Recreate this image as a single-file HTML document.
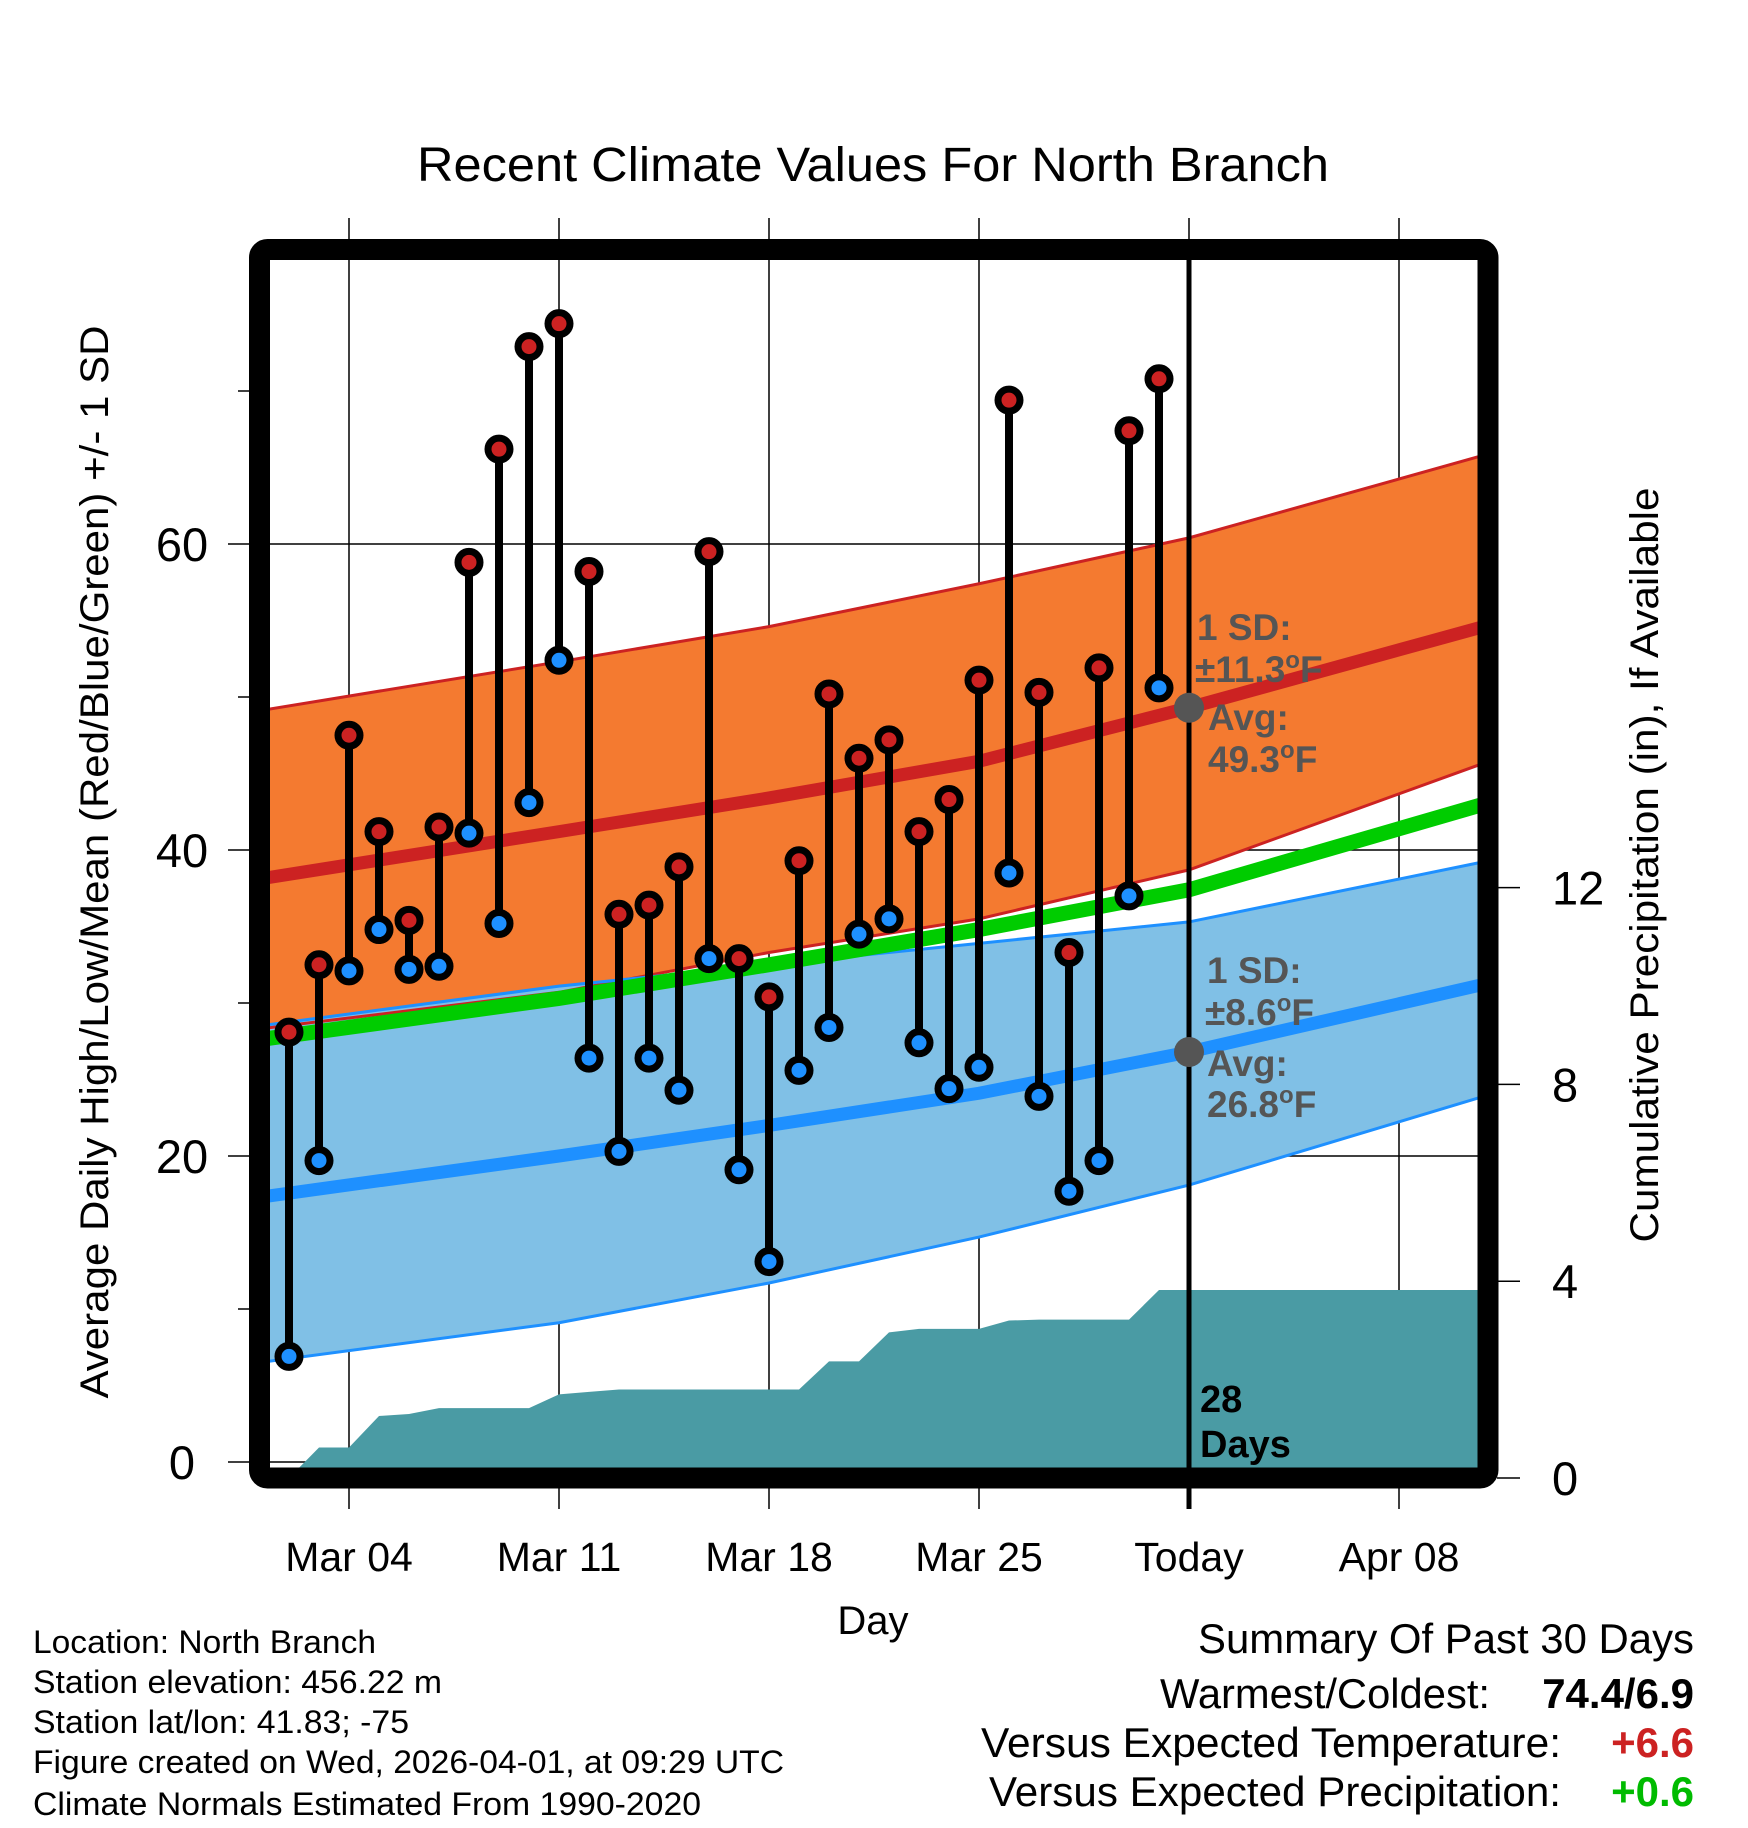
<!DOCTYPE html>
<html>
<head>
<meta charset="utf-8">
<style>
html,body{margin:0;padding:0;background:#fff;}
svg{display:block;font-family:"Liberation Sans",sans-serif;}
</style>
</head>
<body>
<svg id="chart" xmlns="http://www.w3.org/2000/svg" width="1748" height="1828" viewBox="0 0 1748 1828">
  <defs>
    <clipPath id="plotClip"><rect x="270" y="260" width="1208" height="1208"/></clipPath>
  </defs>
  <text x="873" y="181" font-size="48" text-anchor="middle" textLength="912" lengthAdjust="spacingAndGlyphs">Recent Climate Values For North Branch</text>
  <g id="grid"></g>
  <g id="plot" clip-path="url(#plotClip)"></g>
  <g id="marks"></g>
  <g id="annot"></g>
  <rect x="259.5" y="249.5" width="1228.5" height="1228.5" rx="8" fill="none" stroke="#000" stroke-width="21"/>
  <g id="axes"></g>
  <text transform="translate(108,862) rotate(-90)" font-size="40" text-anchor="middle" textLength="1073" lengthAdjust="spacingAndGlyphs">Average Daily High/Low/Mean (Red/Blue/Green) +/- 1 SD</text>
  <text transform="translate(1658,865) rotate(-90)" font-size="40" text-anchor="middle" textLength="755" lengthAdjust="spacingAndGlyphs">Cumulative Precipitation (in), If Available</text>
  <text x="873" y="1634" font-size="40" text-anchor="middle">Day</text>
  <g font-size="32">
    <text x="33" y="1653" textLength="343" lengthAdjust="spacingAndGlyphs">Location: North Branch</text>
    <text x="33" y="1693" textLength="409" lengthAdjust="spacingAndGlyphs">Station elevation: 456.22 m</text>
    <text x="33" y="1733" textLength="376" lengthAdjust="spacingAndGlyphs">Station lat/lon: 41.83; -75</text>
    <text x="33" y="1773" textLength="751" lengthAdjust="spacingAndGlyphs">Figure created on Wed, 2026-04-01, at 09:29 UTC</text>
    <text x="33" y="1815" textLength="668" lengthAdjust="spacingAndGlyphs">Climate Normals Estimated From 1990-2020</text>
  </g>
  <g font-size="42">
    <text x="1694" y="1653" text-anchor="end" textLength="496" lengthAdjust="spacingAndGlyphs">Summary Of Past 30 Days</text>
    <text x="1490" y="1708" text-anchor="end" textLength="330" lengthAdjust="spacingAndGlyphs">Warmest/Coldest:</text>
    <text x="1694" y="1708" text-anchor="end" font-weight="bold">74.4/6.9</text>
    <text x="1561" y="1757" text-anchor="end" textLength="580" lengthAdjust="spacingAndGlyphs">Versus Expected Temperature:</text>
    <text x="1694" y="1757" text-anchor="end" font-weight="bold" fill="#cc2222">+6.6</text>
    <text x="1561" y="1806" text-anchor="end" textLength="572" lengthAdjust="spacingAndGlyphs">Versus Expected Precipitation:</text>
    <text x="1694" y="1806" text-anchor="end" font-weight="bold" fill="#00bb00">+0.6</text>
  </g>
</svg>
<script>
const days = [2,3,4,5,6,7,8,9,10,11,12,13,14,15,16,17,18,19,20,21,22,23,24,25,26,27,28,29,30,31];
const highs = [28.1,32.5,47.5,41.2,35.4,41.5,58.8,66.2,72.9,74.4,58.2,35.8,36.4,38.9,59.5,32.9,30.4,39.3,50.2,46.0,47.2,41.2,43.3,51.1,69.4,50.3,33.3,51.9,67.4,70.8];
const lows = [6.9,19.7,32.1,34.8,32.2,32.4,41.1,35.2,43.1,52.4,26.4,20.3,26.4,24.3,32.9,19.1,13.1,25.6,28.4,34.5,35.5,27.4,24.4,25.8,38.5,23.9,17.7,19.7,37.0,50.6];
const precip = [0,0.62,0.62,1.26,1.3,1.42,1.42,1.42,1.42,1.7,1.75,1.8,1.8,1.8,1.8,1.8,1.8,1.8,2.37,2.37,2.96,3.03,3.03,3.03,3.2,3.22,3.22,3.22,3.22,3.82];
const normDays = [1,11,18,25,32,42];
const hiMean = [38.1,41.2,43.4,45.8,49.3,54.7];
const hiUpper = [49.1,52.3,54.6,57.4,60.4,65.9];
const hiLower = [28.3,30.7,33.3,35.5,38.7,45.8];
const loMean = [17.3,20.0,22.0,24.1,26.8,31.3];
const loUpper = [28.5,31.1,32.5,33.9,35.3,39.3];
const loLower = [6.5,9.1,11.7,14.7,18.1,24.0];
const avgMean = [27.6,30.3,32.5,34.8,37.4,43.1];
const xTickDays = [4,11,18,25,32,39];
const xTickLabels = ["Mar 04","Mar 11","Mar 18","Mar 25","Today","Apr 08"];
const yTicks = [0,20,40,60];
const yMinorTicks = [10,30,50,70];
const y2Ticks = [0,4,8,12];
const todayDay = 32;
const hiAvgToday = 49.3;
const loAvgToday = 26.8;

const NS = "http://www.w3.org/2000/svg";
const X = d => 349 + (d - 4) * 30;
const Y = t => 1462 - t * 15.3;
const Y2 = p => 1478 - p * 49.2;
const PL = 270, PR = 1478, PT = 260, PB = 1468;

function mk(tag, attrs, parent){
  const el = document.createElementNS(NS, tag);
  for (const k in attrs) el.setAttribute(k, attrs[k]);
  parent.appendChild(el);
  return el;
}
const grid = document.getElementById('grid');
const plot = document.getElementById('plot');
const marks = document.getElementById('marks');
const annot = document.getElementById('annot');
const axes = document.getElementById('axes');

yTicks.forEach(t => {
  const l = mk('line', {x1:228, x2:PR, y1:Y(t), y2:Y(t), stroke:'#000', 'stroke-width':1.5}, grid);
  
  
  const tx = mk('text', {x:182, y:Y(t)+17, 'font-size':47, 'text-anchor':'middle'}, axes);
  tx.textContent = String(t);
  
  
});
yMinorTicks.forEach(t => {
  const l = mk('line', {x1:238, x2:250, y1:Y(t), y2:Y(t), stroke:'#000', 'stroke-width':1.5}, axes);
  
  
});
xTickDays.forEach((d, i) => {
  const l = mk('line', {x1:X(d), x2:X(d), y1:218, y2:1509, stroke:'#000', 'stroke-width':1.5}, grid);
  
  
  const tx = mk('text', {x:X(d), y:1571, 'font-size':41, 'text-anchor':'middle'}, axes);
  tx.textContent = xTickLabels[i];
  
  
});
y2Ticks.forEach(p => {
  const l = mk('line', {x1:1497, x2:1520, y1:Y2(p), y2:Y2(p), stroke:'#000', 'stroke-width':1.5}, axes);
  
  
  const tx = mk('text', {x:1552, y:Y2(p)+17, 'font-size':47}, axes);
  tx.textContent = String(p);
  
  
});

function pts(arr){ return normDays.map((d,i)=>X(d)+','+Y(arr[i])).join(' '); }
function band(up, lo){ return pts(up) + ' ' + normDays.slice().reverse().map((d,j)=>{const i=normDays.length-1-j;return X(d)+','+Y(lo[i]);}).join(' '); }

let pp = X(days[0]) + ',' + PB + ' ';
days.forEach((d,i) => { pp += X(d) + ',' + Y2(precip[i]) + ' '; });
pp += (PR+5) + ',' + Y2(precip[precip.length-1]) + ' ' + (PR+5) + ',' + PB;
const pa = mk('polygon', {points:pp, fill:'#4a9ba4'}, plot);



const ob = mk('polygon', {points:band(hiUpper, hiLower), fill:'#f47a30'}, plot);


const bb = mk('polygon', {points:band(loUpper, loLower), fill:'#80c0e6'}, plot);


[[hiUpper,'#cc2222','high-upper-edge'],[hiLower,'#cc2222','high-lower-edge'],[loUpper,'#1e90ff','low-upper-edge'],[loLower,'#1e90ff','low-lower-edge']].forEach(a => {
  const l = mk('polyline', {points:pts(a[0]), fill:'none', stroke:a[1], 'stroke-width':3}, plot);
  
  
});
const gl = mk('polyline', {points:pts(avgMean), fill:'none', stroke:'#00cc00', 'stroke-width':15}, plot);


const rl = mk('polyline', {points:pts(hiMean), fill:'none', stroke:'#cc2222', 'stroke-width':13}, plot);


const bl = mk('polyline', {points:pts(loMean), fill:'none', stroke:'#1e90ff', 'stroke-width':13}, plot);



const tl = mk('line', {x1:X(todayDay), x2:X(todayDay), y1:250, y2:1509, stroke:'#000', 'stroke-width':5}, annot);



days.forEach((d,i) => {
  const s = mk('line', {x1:X(d), x2:X(d), y1:Y(highs[i]), y2:Y(lows[i]), stroke:'#000', 'stroke-width':8}, marks);
  
  
});
days.forEach((d,i) => {
  const h = mk('circle', {cx:X(d), cy:Y(highs[i]), r:11, fill:'#cc2222', stroke:'#000', 'stroke-width':7}, marks);
  
  
  const l = mk('circle', {cx:X(d), cy:Y(lows[i]), r:11, fill:'#1e90ff', stroke:'#000', 'stroke-width':7}, marks);
  
  
});

const g1 = mk('circle', {cx:X(todayDay), cy:Y(hiAvgToday), r:15, fill:'#555'}, annot);


const g2 = mk('circle', {cx:X(todayDay), cy:Y(loAvgToday), r:15, fill:'#555'}, annot);


function lab(x, y, t, name){
  const e = mk('text', {x:x, y:y, 'font-size':37, 'font-weight':'bold', fill:'#555'}, annot);
  e.innerHTML = t;
  
  
}
lab(1197, 640, '1 SD:', 'high-sd-label');
lab(1195, 682, '±11.3<tspan dy="-14" font-size="24">o</tspan><tspan dy="14">F</tspan>', 'high-sd-value');
lab(1208, 730, 'Avg:', 'high-avg-label');
lab(1208, 772, '49.3<tspan dy="-14" font-size="24">o</tspan><tspan dy="14">F</tspan>', 'high-avg-value');
lab(1207, 983, '1 SD:', 'low-sd-label');
lab(1205, 1025, '±8.6<tspan dy="-14" font-size="24">o</tspan><tspan dy="14">F</tspan>', 'low-sd-value');
lab(1207, 1076, 'Avg:', 'low-avg-label');
lab(1207, 1117, '26.8<tspan dy="-14" font-size="24">o</tspan><tspan dy="14">F</tspan>', 'low-avg-value');
const dl1 = mk('text', {x:1200, y:1412, 'font-size':38, 'font-weight':'bold'}, annot);
dl1.textContent = '28';


const dl2 = mk('text', {x:1200, y:1457, 'font-size':38, 'font-weight':'bold'}, annot);
dl2.textContent = 'Days';


</script>
</body>
</html>
